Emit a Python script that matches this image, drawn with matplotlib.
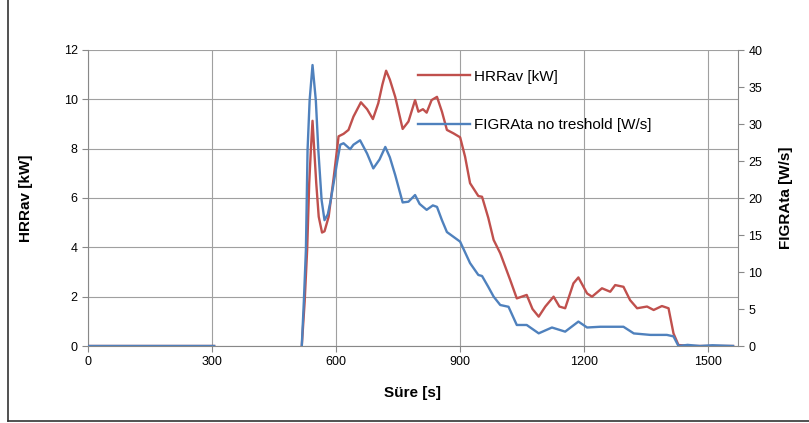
import numpy as np
import matplotlib.pyplot as plt
from matplotlib.lines import Line2D

plt.rcParams['font.family'] = ['Liberation Sans', 'DejaVu Sans']

# HRRav [kW] vs time [s]
hrr_t = [0, 305, np.nan, 517, 524, 530, 535, 539, 543, 547, 552, 558, 566, 572, 582,
         594, 606, 618, 630, 642, 660, 675, 689, 702, 712, 721, 730, 743, 761, 775,
         791, 799, 810, 819, 831, 844, 856, 868, 884, 900, 912, 924, 944, 953, 968,
         981, 997, 1021, 1037, 1061, 1075, 1090, 1106, 1126, 1140, 1154, 1174, 1186,
         1207, 1219, 1243, 1263, 1275, 1295, 1311, 1328, 1352, 1368, 1388, 1404,
         1416, 1428, 1460, 1500, 1560]
hrr = [0, 0, np.nan, 0, 1.8, 3.9, 6.6, 7.95, 9.13, 8.0, 6.6, 5.24, 4.6, 4.65, 5.24,
       6.8, 8.5, 8.6, 8.76, 9.3, 9.88, 9.6, 9.2, 9.84, 10.6, 11.16, 10.8, 10.1, 8.8,
       9.1, 9.97, 9.5, 9.6, 9.46, 9.97, 10.1, 9.5, 8.76, 8.62, 8.46, 7.67, 6.6, 6.08,
       6.05, 5.2, 4.3, 3.76, 2.68, 1.93, 2.07, 1.5, 1.19, 1.6, 2.0, 1.6, 1.53, 2.54,
       2.78, 2.13, 2.0, 2.34, 2.2, 2.47, 2.4, 1.86, 1.53, 1.6, 1.46, 1.62, 1.53,
       0.51, 0.04, 0.0, 0.0, 0.0]

# FIGRAta no treshold [W/s] vs time [s]
figra_t = [0, 305, np.nan, 517, 522, 527, 531, 536, 543, 551, 557, 565, 572, 580,
           587, 594, 603, 610, 618, 634, 642, 658, 675, 690, 705, 719, 730, 743, 761,
           775, 791, 802, 819, 834, 844, 856, 868, 900, 924, 944, 953, 968, 981, 997,
           1017, 1037, 1061, 1090, 1122, 1154, 1186, 1207, 1239, 1295, 1320, 1360,
           1400, 1416, 1428, 1450, 1480, 1510, 1560]
figra = [0, 0, np.nan, 0, 6.0, 13.0, 26.5, 33.2, 37.97, 33.2, 26.5, 19.7, 17.0,
         17.8, 19.7, 22.0, 25.0, 27.2, 27.4, 26.6, 27.2, 27.8, 26.0, 24.0, 25.2,
         26.9, 25.5, 23.1, 19.4, 19.5, 20.4, 19.2, 18.4, 19.0, 18.8, 17.0, 15.4,
         14.1, 11.2, 9.6, 9.46, 8.0, 6.67, 5.54, 5.3, 2.84, 2.84, 1.71, 2.5, 1.94,
         3.3, 2.5, 2.6, 2.6, 1.7, 1.5, 1.5, 1.3, 0.0, 0.15, 0.0, 0.1, 0.0]

red = '#C0504D'
blue = '#4F81BD'
grid_c = '#A0A0A0'

fig = plt.figure(figsize=(8.09, 4.23), dpi=100)
ax = fig.add_axes([88 / 809, 77 / 423, 650 / 809, 296 / 423])
ax2 = ax.twinx()

ax.plot(hrr_t, hrr, color=red, lw=1.7, zorder=3, solid_joinstyle='round')
ax2.plot(figra_t, figra, color=blue, lw=1.7, zorder=3, solid_joinstyle='round')

ax.set_xlim(0, 1572)
ax.set_ylim(0, 12)
ax2.set_ylim(0, 40)
ax.set_xticks([0, 300, 600, 900, 1200, 1500])
ax.set_yticks(range(0, 13, 2))
ax2.set_yticks(range(0, 41, 5))
ax.grid(True, color=grid_c, lw=0.8)
ax.set_axisbelow(True)

for a in (ax, ax2):
    a.spines['top'].set_visible(False)
    for s in ('left', 'right', 'bottom'):
        a.spines[s].set_color('#888888')
        a.spines[s].set_linewidth(0.8)
    a.tick_params(labelsize=9, colors='#888888', labelcolor='black',
                  length=4, width=0.8)
ax.spines['right'].set_visible(False)
ax2.spines['left'].set_visible(False)
ax2.spines['bottom'].set_visible(False)

ax.set_xlabel('Süre [s]', fontsize=11, fontweight='bold', labelpad=13)
ax.set_ylabel('HRRav [kW]', fontsize=11, fontweight='bold', labelpad=22)
ax2.set_ylabel('FIGRAta [W/s]', fontsize=11, fontweight='bold', labelpad=12)

handles = [Line2D([], [], color=red, lw=1.7), Line2D([], [], color=blue, lw=1.7)]
ax.legend(handles, ['HRRav [kW]', 'FIGRAta no treshold [W/s]'],
          loc='upper left', bbox_to_anchor=(0.486, 0.98), frameon=False,
          fontsize=11, handlelength=3.4, labelspacing=2.25, handletextpad=0.3)

# outer chart frame (left and bottom visible)
fig.add_artist(Line2D([8 / 809, 8 / 809], [2 / 423, 1.0], color='#333333',
                      lw=1.2, transform=fig.transFigure))
fig.add_artist(Line2D([8 / 809, 1.0], [2 / 423, 2 / 423], color='#333333',
                      lw=1.2, transform=fig.transFigure))

fig.savefig('out.png', dpi=100)
